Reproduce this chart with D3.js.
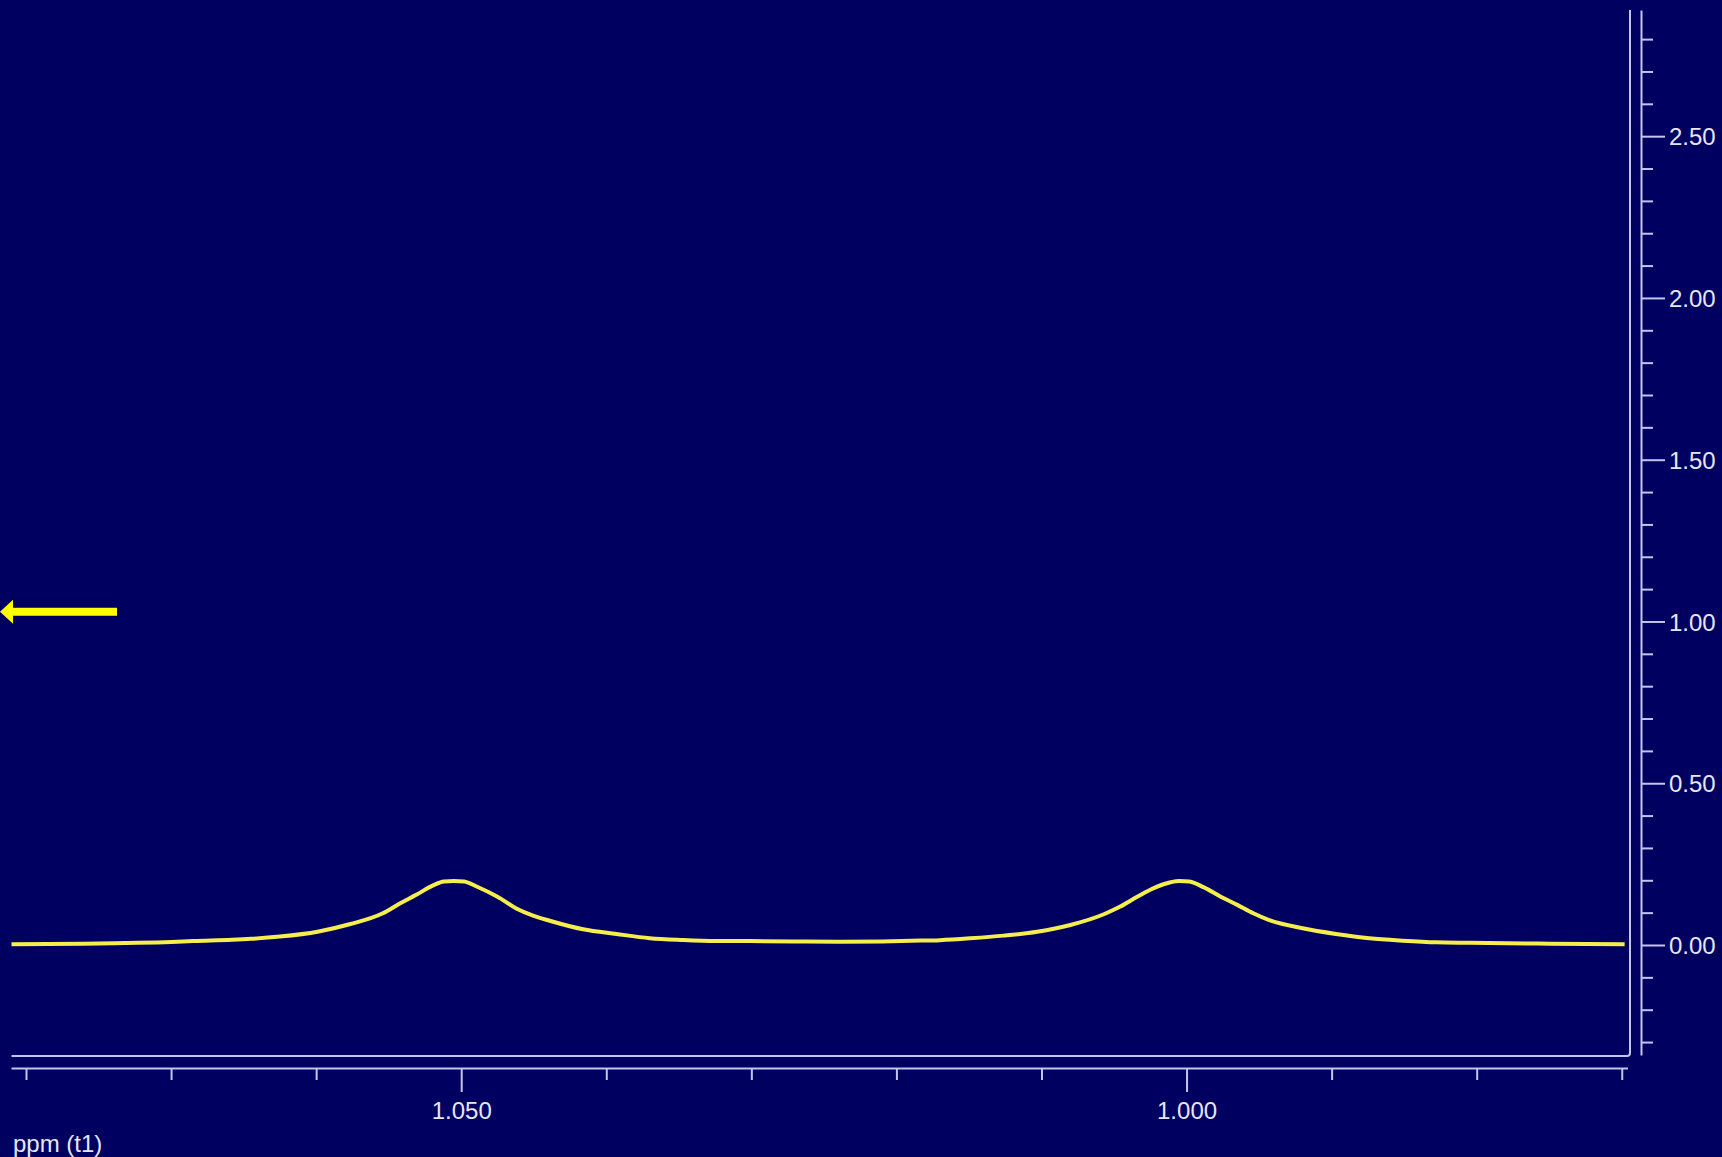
<!DOCTYPE html>
<html>
<head>
<meta charset="utf-8">
<script src="https://cdn.jsdelivr.net/npm/d3@7"></script>
<style>
  html, body { margin: 0; padding: 0; background: #000060; overflow: hidden; }
  svg { display: block; }
  text { font-family: "Liberation Sans", Arial, sans-serif; }
</style>
</head>
<body>
<svg id="chart" width="1722" height="1157"></svg>
<script>
// ---- data ----
const ppm = [1.0810, 1.0760, 1.0732, 1.0700, 1.0685, 1.0658, 1.0645, 1.0625, 1.0599, 1.0577,
             1.0554, 1.0542, 1.0531, 1.0519, 1.0512, 1.0505, 1.0498, 1.0489, 1.0475, 1.0462,
             1.0450, 1.0439, 1.0416, 1.0393, 1.0370, 1.0347, 1.0324, 1.0301, 1.0270, 1.0240,
             1.0210, 1.0190, 1.0170, 1.0149, 1.0126, 1.0103, 1.0080, 1.0057, 1.0046, 1.0034,
             1.0023, 1.0011, 1.0005, 0.9998, 0.9988, 0.9977, 0.9965, 0.9954, 0.9943, 0.9920,
             0.9897, 0.9874, 0.9851, 0.9828, 0.9805, 0.9750, 0.9698];
const intensity = [0.002, 0.004, 0.006, 0.009, 0.012, 0.016, 0.019, 0.026, 0.041, 0.064,
                   0.098, 0.129, 0.155, 0.185, 0.196, 0.198, 0.196, 0.180, 0.149, 0.113,
                   0.090, 0.075, 0.0485, 0.034, 0.021, 0.0155, 0.0124, 0.012, 0.011, 0.010,
                   0.011, 0.013, 0.015, 0.0207, 0.029, 0.041, 0.062, 0.095, 0.118, 0.149,
                   0.175, 0.194, 0.198, 0.196, 0.178, 0.151, 0.124, 0.098, 0.077, 0.0516,
                   0.034, 0.0207, 0.0133, 0.0083, 0.007, 0.004, 0.002];
const xTicks = [1.08, 1.07, 1.06, 1.05, 1.04, 1.03, 1.02, 1.01, 1.00, 0.99, 0.98, 0.97];
const xMajor = [1.05, 1.00];
const yTicks = [-0.3, -0.2, -0.1, 0.0, 0.1, 0.2, 0.3, 0.4, 0.5, 0.6, 0.7, 0.8, 0.9, 1.0,
                1.1, 1.2, 1.3, 1.4, 1.5, 1.6, 1.7, 1.8, 1.9, 2.0, 2.1, 2.2, 2.3, 2.4, 2.5,
                2.6, 2.7, 2.8];
const yMajor = [0.0, 0.5, 1.0, 1.5, 2.0, 2.5];
const xLabel = "ppm (t1)";
const arrowValue = 1.03;

// ---- styles ----
const BG = "#000060";
const AXIS = "#c4c4f0";
const TEXT = "#e6e6f6";
const LINE = "#f6ee4c";
const ARROW = "#ffff00";
const FONT_SIZE = 24;

const svg = d3.select("#chart");
svg.append("rect").attr("width", 1722).attr("height", 1157).attr("fill", BG);

const x = d3.scaleLinear().domain([1.081, 0.9695]).range([11.5, 1629]);
const y = d3.scaleLinear().domain([-0.34, 2.89]).range([1055, 10]);

const isMajor = (arr, v) => arr.some(m => Math.abs(m - v) < 1e-9);

// frame (bottom + right with rounded corner)
svg.append("path")
  .attr("d", `M${x.range()[0]},1056 H1627 Q1630,1056 1630,1053 V10`)
  .attr("fill", "none").attr("stroke", AXIS).attr("stroke-width", 2);

// bottom axis
const gx = svg.append("g").attr("transform", "translate(0,1068)");
gx.call(d3.axisBottom(x).tickValues(xTicks).tickSizeOuter(0).tickSizeInner(12).tickPadding(24)
  .tickFormat(d => isMajor(xMajor, d) ? d3.format(".3f")(d) : ""));
gx.select(".domain").attr("stroke", AXIS).attr("stroke-width", 2)
  .attr("d", `M${x.range()[0]},0.5H${x.range()[1] - 1}`);
gx.selectAll(".tick line").attr("stroke", AXIS).attr("stroke-width", 2)
  .attr("y2", d => isMajor(xMajor, d) ? 24 : 12);
gx.selectAll(".tick text").attr("fill", TEXT).attr("font-size", FONT_SIZE)
  .attr("font-family", "'Liberation Sans', Arial, sans-serif")
  .attr("y", 34).attr("dy", "0.71em");

// right axis
const gy = svg.append("g").attr("transform", "translate(1641,0)");
gy.call(d3.axisRight(y).tickValues(yTicks).tickSizeOuter(0).tickSizeInner(12).tickPadding(6)
  .tickFormat(d => isMajor(yMajor, d) ? d3.format(".2f")(d) : ""));
gy.select(".domain").attr("stroke", AXIS).attr("stroke-width", 2);
gy.selectAll(".tick line").attr("stroke", AXIS).attr("stroke-width", 2)
  .attr("x2", d => isMajor(yMajor, d) ? 24 : 12);
gy.selectAll(".tick text").attr("fill", TEXT).attr("font-size", FONT_SIZE)
  .attr("font-family", "'Liberation Sans', Arial, sans-serif")
  .attr("x", 28).attr("dy", "0.36em");

// axis label
svg.append("text").attr("x", 13).attr("y", 1152).attr("fill", TEXT)
  .attr("font-size", FONT_SIZE).text(xLabel);

// spectrum
const data = ppm.map((p, i) => ({ p, v: intensity[i] }));
svg.append("path")
  .datum(data)
  .attr("fill", "none")
  .attr("stroke", LINE)
  .attr("stroke-width", 4)
  .attr("stroke-linejoin", "round")
  .attr("d", d3.line().x(d => x(d.p)).y(d => y(d.v)).curve(d3.curveMonotoneX));

// arrow annotation
const ay = y(arrowValue);
svg.append("rect").attr("x", 12).attr("y", ay - 4).attr("width", 105).attr("height", 8).attr("fill", ARROW);
svg.append("path").attr("d", `M0,${ay} L13,${ay - 12} L13,${ay + 12} Z`).attr("fill", ARROW);
</script>
</body>
</html>
